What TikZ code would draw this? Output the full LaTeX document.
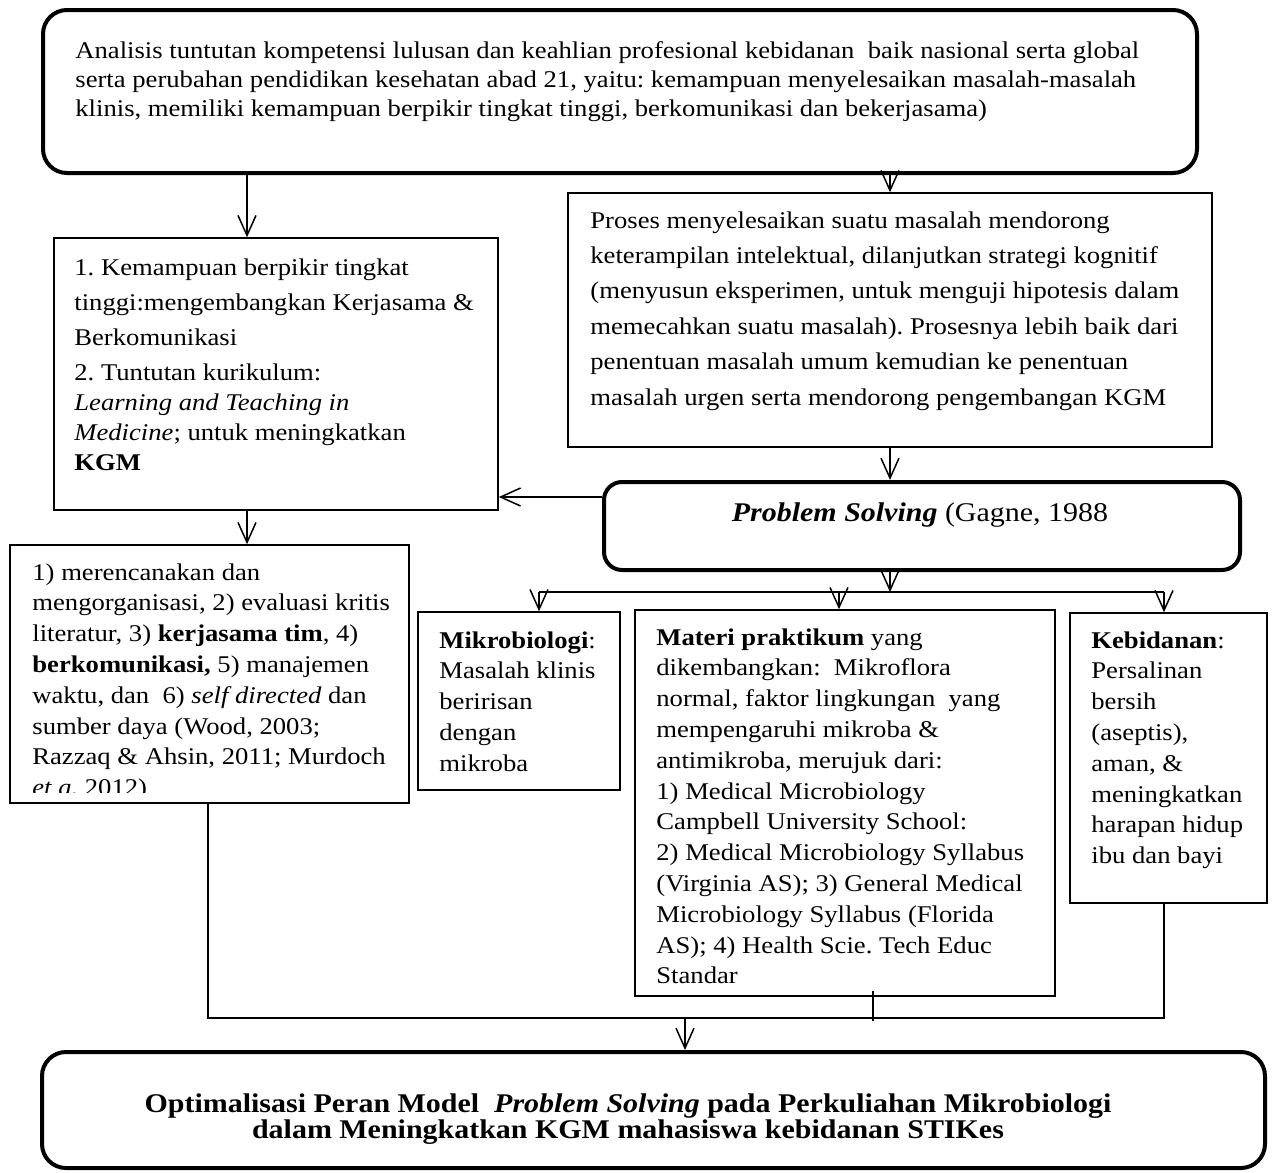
\documentclass[tikz,border=0pt]{standalone}
\usepackage{fontspec}
\setmainfont{Liberation Serif}[FakeStretch=1.11]
\usetikzlibrary{arrows.meta}
\frenchspacing
\tikzset{
  box/.style={draw, line width=0.75pt, inner sep=0pt},
  roundbox/.style={draw, line width=2pt, inner sep=0pt},
  txt/.style={anchor=north west, inner sep=0pt, align=left},
  arr/.style={-{Straight Barb[length=10pt,width=9pt]}, line width=0.75pt},
}

\begin{document}
\begin{tikzpicture}[x=0.5pt, y=-0.5pt, font=\fontsize{12}{15.4}\selectfont]
    \useasboundingbox (0,0) rectangle (1275,1173);
    % Boxes
    \node[roundbox, rounded corners=12pt, minimum width=577pt, minimum height=81.5pt] (analisis) at (620,91.5) {};
    \node[box, minimum width=222pt, minimum height=136pt] (kemampuan) at (276,374) {};
    \node[box, minimum width=322pt, minimum height=127pt] (proses) at (890,320) {};
    \node[roundbox, rounded corners=9pt, minimum width=318pt, minimum height=44pt] (ps) at (922,526) {};
    \node[box, minimum width=199.5pt, minimum height=129pt] (skills) at (209.5,674) {};
    \node[box, minimum width=101pt, minimum height=89pt] (mikro) at (519,701) {};
    \node[box, minimum width=210pt, minimum height=193pt] (materi) at (845,803) {};
    \node[box, minimum width=98.5pt, minimum height=145pt] (kebid) at (1168.5,758) {};
    \node[roundbox, rounded corners=12pt, minimum width=611.5pt, minimum height=58pt] (optim) at (653.5,1110) {};

    % Texts
    \node[txt, font=\fontsize{12}{14.5}\selectfont] (analisistxt) at (75,41) {Analisis tuntutan kompetensi lulusan dan keahlian profesional kebidanan\ \ baik nasional serta global\\
      serta perubahan pendidikan kesehatan abad 21, yaitu: kemampuan menyelesaikan masalah-masalah\\
      klinis, memiliki kemampuan berpikir tingkat tinggi, berkomunikasi dan bekerjasama)};
    \node[txt, font=\fontsize{12}{15}\selectfont] (kemampuantxt) at (74,258) {1. Kemampuan berpikir tingkat\\[2.5pt]
      tinggi:mengembangkan Kerjasama \&\\[2.5pt]
      Berkomunikasi\\[2.5pt]
      2. Tuntutan kurikulum:\\
      \textit{Learning and Teaching in}\\
      \textit{Medicine}; untuk meningkatkan\\
      \textbf{KGM}};
    \node[txt, font=\fontsize{12}{17.7}\selectfont] (prosestxt) at (590,211) {Proses menyelesaikan suatu masalah mendorong\\
      keterampilan intelektual, dilanjutkan strategi kognitif\\
      (menyusun eksperimen, untuk menguji hipotesis dalam\\
      memecahkan suatu masalah). Prosesnya lebih baik dari\\
      penentuan masalah umum kemudian ke penentuan\\
      masalah urgen serta mendorong pengembangan KGM};
    \node[font=\fontsize{13.5}{15}\selectfont, inner sep=0pt] (pstxt) at (920,515) {\textbf{\textit{Problem Solving}} (Gagne, 1988};
    \begin{scope}
      \clip (10,545) rectangle (409,792);
      \node[txt] (skillstxt) at (32,563) {1) merencanakan dan\\
        mengorganisasi, 2) evaluasi kritis\\
        literatur, 3) \textbf{kerjasama tim}, 4)\\
        \textbf{berkomunikasi,} 5) manajemen\\
        waktu, dan\ \ 6) \textit{self directed} dan\\
        sumber daya (Wood, 2003;\\
        Razzaq \& Ahsin, 2011; Murdoch\\
        \textit{et a.} 2012)};
    \end{scope}
    \node[txt] (mikrotxt) at (439,631) {\textbf{Mikrobiologi}:\\
      Masalah klinis\\
      beririsan\\
      dengan\\
      mikroba};
    \node[txt] (materitxt) at (656,628) {\textbf{Materi praktikum} yang\\
      dikembangkan:\ \ Mikroflora\\
      normal, faktor lingkungan\ \ yang\\
      mempengaruhi mikroba \&\\
      antimikroba, merujuk dari:\\
      1) Medical Microbiology\\
      Campbell University School:\\
      2) Medical Microbiology Syllabus\\
      (Virginia AS); 3) General Medical\\
      Microbiology Syllabus (Florida\\
      AS); 4) Health Scie. Tech Educ\\
      Standar};
    \node[txt] (kebidtxt) at (1091,631) {\textbf{Kebidanan}:\\
      Persalinan\\
      bersih\\
      (aseptis),\\
      aman, \&\\
      meningkatkan\\
      harapan hidup\\
      ibu dan bayi};
    \node[align=center, inner sep=0pt, font=\fontsize{13.5}{13.4}\selectfont\bfseries] (optimtxt) at (628,1119) {Optimalisasi Peran Model\ \ \textit{Problem Solving} pada Perkuliahan Mikrobiologi\\
      dalam Meningkatkan KGM mahasiswa kebidanan STIKes};

    % Connectors
    \coordinate (xa) at (247,0);
    \coordinate (yl) at (0,497);
    \draw[arr] (analisis.south -| xa) -- (kemampuan.north -| xa);
    \draw[arr] (analisis.south -| proses.north) -- (proses.north);
    \draw[arr] (proses.south) -- (proses.south |- ps.north);
    \draw[arr] (ps.west |- yl) -- (kemampuan.east |- yl);
    \draw[arr] (kemampuan.south -| xa) -- (skills.north -| xa);

    % Branches below Problem Solving
    \coordinate (split) at (890,592);
    \coordinate (bl) at (539,592);
    \coordinate (bm) at (839,592);
    \coordinate (br) at (1164,592);
    \draw[arr] (ps.south -| split) -- (split);
    \draw[line width=0.75pt] (bl) -- (br);
    \draw[arr] (bl) -- (bl |- mikro.north);
    \draw[arr] (bm) -- (bm |- materi.north);
    \draw[arr] (br) -- (br |- kebid.north);

    % Merge into the last box
    \coordinate (ml) at (208,1018);
    \coordinate (mm) at (685,1018);
    \coordinate (mr) at (1164,1018);
    \draw[line width=0.75pt] (skills.south -| ml) -- (ml) -- (mr) -- (kebid.south -| mr);
    \draw[line width=0.75pt] (873,991) -- (873,1021);
    \draw[arr] (mm) -- (mm |- optim.north);
\end{tikzpicture}
\end{document}
